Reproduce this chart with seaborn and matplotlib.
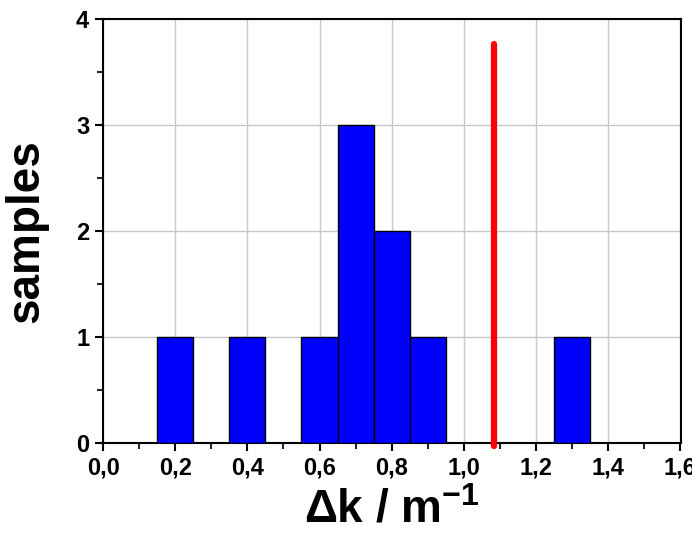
import numpy as np
import pandas as pd
import matplotlib
matplotlib.use("Agg")
import matplotlib.pyplot as plt
import seaborn as sns
from matplotlib.ticker import MultipleLocator, FuncFormatter

# Data
bin_centers = [0.2, 0.4, 0.6, 0.7, 0.8, 0.9, 1.3]
counts = [1, 1, 1, 3, 2, 1, 1]
threshold_x = 1.085
threshold_top = 3.77
x_ticks = [0.0, 0.2, 0.4, 0.6, 0.8, 1.0, 1.2, 1.4, 1.6]
y_ticks = [0, 1, 2, 3, 4]

sns.set_style("white")
plt.rcParams['font.family'] = ['Liberation Sans', 'DejaVu Sans']
plt.rcParams['mathtext.fontset'] = 'custom'
plt.rcParams['mathtext.rm'] = 'Liberation Sans:bold'
plt.rcParams['mathtext.bf'] = 'Liberation Sans:bold'
plt.rcParams['text.color'] = 'black'
plt.rcParams['axes.labelcolor'] = 'black'

fig = plt.figure(figsize=(6.92, 5.33), dpi=100)
ax = fig.add_axes([0.149, 0.169, 0.835, 0.795])

df = pd.DataFrame({"dk": bin_centers, "n": counts})
sns.histplot(data=df, x="dk", weights="n", binwidth=0.1, binrange=(0.15, 1.35),
             color="#0000FF", alpha=1.0, edgecolor="black", linewidth=1.0, ax=ax, zorder=3)

ax.plot([threshold_x, threshold_x], [-0.03, threshold_top], color="#FF0000", lw=4.5,
        solid_capstyle="round", zorder=4, clip_on=False)

ax.set_xlim(0, 1.602)
ax.set_ylim(0, 4)
ax.set_xticks(x_ticks)
ax.set_yticks(y_ticks)
ax.xaxis.set_minor_locator(MultipleLocator(0.1))
ax.yaxis.set_minor_locator(MultipleLocator(0.5))
ax.xaxis.set_major_formatter(FuncFormatter(lambda v, p: f"{v:.1f}".replace(".", ",")))
ax.grid(True, which="major", color="#c8c8c8", lw=1.0, zorder=0)
ax.set_axisbelow(True)

for s in ax.spines.values():
    s.set_visible(True)
    s.set_color("black")
    s.set_linewidth(1.5)

ax.tick_params(which="major", direction="out", length=6, width=1.5, labelsize=17,
               bottom=True, left=True, colors="black", pad=4)
ax.tick_params(which="minor", direction="out", length=4, width=1.5, bottom=True, left=True)
for lab in ax.get_xticklabels() + ax.get_yticklabels():
    lab.set_fontweight("bold")

ax.set_xlabel(r"Δk / m$^{\mathbf{-1}}$", fontsize=33, fontweight="bold", labelpad=6)
ax.set_ylabel("samples", fontsize=33, fontweight="bold", labelpad=20)

fig.savefig("out.png", dpi=100)
